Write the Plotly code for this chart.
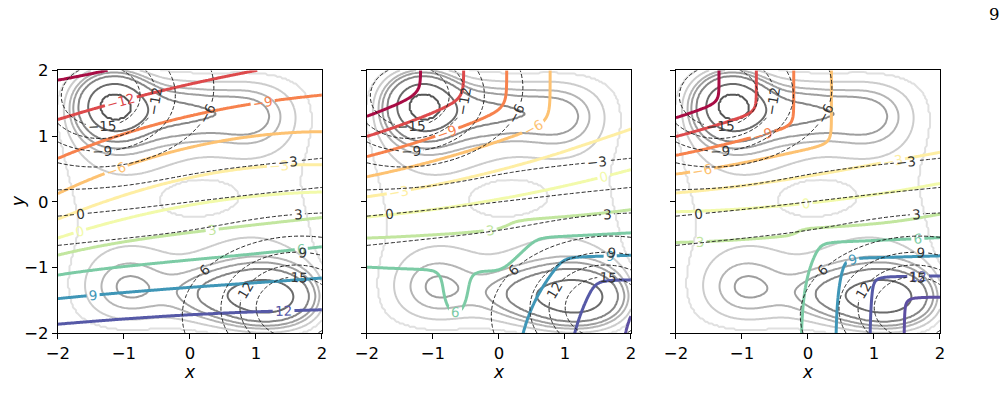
import numpy as np
import plotly.graph_objects as go

# ---------------- data: values ----------------
levels_start, levels_end, levels_step = -15, 15, 3          # labelled contour levels
tick_vals = [-2, -1, 0, 1, 2]

# potential (grey contours): gaussian terms (depth, x, y, sx, sy); negative depth = bump
pot_depth = [8.5, 2.9, 2.3, 1.0, 6.6, 2.4, 2.3, 0.8, -1.5]
pot_x = [-1.17, -0.15, 0.95, -0.9, 1.22, 0.35, -0.95, 0.9, 0.12]
pot_y = [1.47, 1.37, 1.30, 1.0, -1.46, -1.42, -1.30, -1.0, 0.06]
pot_sx = [0.36, 0.60, 0.45, 0.8, 0.50, 0.50, 0.45, 0.8, 0.38]
pot_sy = [0.33, 0.30, 0.38, 0.6, 0.30, 0.28, 0.38, 0.6, 0.19]
pot_wall = 1.0
# points the grey rings pass through (innermost -> outermost)
ring_x = [-1.36, -1.54, 0.36, 1.20, 1.37, 1.60, 1.83]
ring_y = [1.48, 1.48, 1.37, 1.30, 1.30, 1.30, 1.30]
grey_colors = ['#555555', '#6b6b6b', '#858585', '#9e9e9e', '#b5b5b5', '#cccccc', '#e0e0e0']

# reference field (dashed): tilt, saturation, two lobes
ref_ky, ref_kx, ref_sat = 7.5, 0.8, 5.5
ref_lobe = dict(amp=14.0, ax=1.06, ay=1.7, br=(1.6, -1.6), tl=(-1.35, 1.6))

# panel 1 colour field: zero line y0 (at x=-2,0,2) and profile coefficients
p1_y0 = [-0.55, -0.05, 0.15]
p1_a_neg = [5.0, 6.2, 5.3]
p1_b_neg = [3.0, 0.6, 1.2]
p1_a_pos = [7.5, 7.2, 6.2]
p1_b_pos = [2.2, 0.0, 0.9]

# panel 2 colour field
p2_y0 = [-0.23, 0.04, 0.49]
p2_k = [9.8, 6.8, 4.95]
p2_sat = 8.5
p2_top = dict(x0=0.77, slope=4.6, flat=-4.5)
p2_br = dict(x0=0.37, cx=1.2, kx=4.0, y0=-0.47, cy=1.68, ky=5.5)
p2_dip = dict(x=-0.66, y=-1.45, h=2.2, sx=0.15, sy=0.3)

# panel 3 colour field
p3_y0 = [-0.15, -0.02, 0.28]
p3_kneg = [10.5, 7.3, 6.4]
p3_kpos = 7.2
p3_sat = 5.5
p3_top = dict(x0=0.35, slope=5.3, flat=-4.5)
p3_br = dict(x0=-0.1, cx=0.5, kx=5.8, y0=-0.357, cy=0.0, ky=8.8)

spectral = ['#9e0142', '#d53e4f', '#f46d43', '#fdae61', '#fee08b', '#ffffbf',
            '#e6f598', '#abdda4', '#66c2a5', '#3288bd', '#5e4fa2']
norm_lo, norm_hi = -15.5, 12.5

# ---------------- fields ----------------
N = 161
g = np.linspace(-2, 2, N)
X, Y = np.meshgrid(g, g)


def quad(v, x):
    a = (v[2] - v[0]) / 4.0
    b = (v[2] + v[0] - 2 * v[1]) / 8.0
    return v[1] + a * x + b * x * x


def smax(a, b, s):
    return s * np.logaddexp(a / s, b / s)


def smin(a, b, s):
    return -smax(-a, -b, s)


def softplus(a, s):
    return s * np.logaddexp(0, a / s)


def potential(x, y):
    v = pot_wall * ((x / 2) ** 8 + (y / 2) ** 8)
    for A, cx, cy, sx, sy in zip(pot_depth, pot_x, pot_y, pot_sx, pot_sy):
        v = v - A * np.exp(-((x - cx) ** 2 / (2 * sx ** 2) + (y - cy) ** 2 / (2 * sy ** 2)))
    return v


V = potential(X, Y)
ring_levels = sorted(float(potential(px_, py_)) for px_, py_ in zip(ring_x, ring_y))
nr = len(ring_levels)
Vg = np.interp(V, [ring_levels[0] - 100] + ring_levels + [ring_levels[-1] + 100],
               [-1] + list(range(nr)) + [nr])

base = ref_sat * np.tanh((-ref_ky * Y + ref_kx * X) / ref_sat)
L = ref_lobe
F_ref = (base
         + L['amp'] * np.exp(-(L['ax'] * (X - L['br'][0]) ** 2 + L['ay'] * (Y - L['br'][1]) ** 2))
         - L['amp'] * np.exp(-(L['ax'] * (X - L['tl'][0]) ** 2 + L['ay'] * (Y - L['tl'][1]) ** 2)))

# panel 1
d1 = Y - quad(p1_y0, X)
F1 = np.where(d1 > 0,
              -(quad(p1_a_neg, X) * d1 + quad(p1_b_neg, X) * np.tanh(d1 / 0.5)),
              quad(p1_a_pos, X) * (-d1) + quad(p1_b_pos, X) * np.tanh(-d1 / 0.5))

# panel 2
d2 = Y - quad(p2_y0, X)
L2 = -quad(p2_k, X) * d2
core2 = np.where(L2 > 0, p2_sat * np.tanh(L2 / p2_sat), L2)
G2 = smin(-6 + p2_top['slope'] * (X - p2_top['x0']), p2_top['flat'], 0.5)
b2 = p2_br
T2 = softplus(smin(b2['cx'] + b2['kx'] * (X - b2['x0']), b2['cy'] + b2['ky'] * (b2['y0'] - Y), 0.4), 0.3)
D2 = p2_dip['h'] * np.exp(-((X - p2_dip['x']) ** 2 / (2 * p2_dip['sx'] ** 2) + (Y - p2_dip['y']) ** 2 / (2 * p2_dip['sy'] ** 2)))
F2 = smax(core2, G2, 0.6) + T2 - D2

# panel 3
d3 = Y - quad(p3_y0, X)
core3 = np.where(d3 > 0, -quad(p3_kneg, X) * d3, p3_sat * np.tanh(p3_kpos * (-d3) / p3_sat))
G3 = smin(-6 + p3_top['slope'] * (X - p3_top['x0']), p3_top['flat'], 0.5)
b3 = p3_br
T3 = softplus(smin(b3['cx'] + b3['kx'] * (X - b3['x0']), b3['cy'] + b3['ky'] * (b3['y0'] - Y), 0.5), 0.3)
F3 = smax(core3, G3, 0.5) + T3


# ---------------- colours ----------------
def hex2rgb(h):
    return np.array([int(h[i:i + 2], 16) for i in (1, 3, 5)], float)


def spectral_at(p):
    p = min(max(p, 0.0), 1.0) * 10
    i = min(int(p), 9)
    t = p - i
    c = hex2rgb(spectral[i]) * (1 - t) + hex2rgb(spectral[i + 1]) * t
    return 'rgb(%d,%d,%d)' % tuple(np.round(c))


levels = list(range(levels_start, levels_end + 1, levels_step))
color_scale = [[(lv - levels_start) / (levels_end - levels_start),
                spectral_at((lv - norm_lo) / (norm_hi - norm_lo))] for lv in levels]
grey_scale = [[i / (nr - 1), c] for i, c in enumerate(grey_colors)]

# the page photo maps figure pixels p to picture pixels a*p + b (measured)
FIG_W, FIG_H = 1006, 419
AX, BX, AY, BY = 0.983, 11.1, 0.954, 8.8


def px(P):
    return (P - BX) / AX / FIG_W


def py(P):
    return 1 - (P - BY) / AY / FIG_H


fig = go.Figure()
domains = [[px(57), px(321)], [px(366), px(630)], [px(675), px(939)]]
ydom = [py(333), py(70)]
fields = [F1, F2, F3]

for i, F in enumerate(fields):
    xa = 'x' if i == 0 else 'x%d' % (i + 1)
    ya = 'y' if i == 0 else 'y%d' % (i + 1)
    fig.add_trace(go.Contour(
        x=g, y=g, z=np.round(Vg, 4), xaxis=xa, yaxis=ya, showscale=False,
        autocontour=False, contours=dict(start=0, end=nr - 1, size=1, coloring='lines'),
        colorscale=grey_scale, line=dict(width=2), hoverinfo='skip'))
    fig.add_trace(go.Contour(
        x=g, y=g, z=np.round(F, 3), xaxis=xa, yaxis=ya, showscale=False,
        autocontour=False,
        contours=dict(start=levels_start, end=levels_end, size=levels_step, coloring='lines',
                      showlabels=True, labelfont=dict(size=13.5, family='DejaVu Sans')),
        colorscale=color_scale, line=dict(width=3), hoverinfo='skip'))
    fig.add_trace(go.Contour(
        x=g, y=g, z=np.round(F_ref, 3), xaxis=xa, yaxis=ya, showscale=False,
        autocontour=False,
        contours=dict(start=levels_start, end=levels_end, size=levels_step, coloring='lines',
                      showlabels=True, labelfont=dict(size=13.5, family='DejaVu Sans', color='#333333')),
        colorscale=[[0, '#222222'], [1, '#222222']], line=dict(width=1, dash='4px,2px'),
        hoverinfo='skip'))

axis_common = dict(range=[-2, 2], tickvals=tick_vals, ticks='outside', ticklen=5, tickwidth=1,
                   tickcolor='black', showgrid=False, zeroline=False, showline=True, mirror=True,
                   linecolor='black', linewidth=1,
                   tickfont=dict(family='DejaVu Sans', size=16.5, color='black'))
layout = dict(width=FIG_W, height=FIG_H, margin=dict(l=0, r=0, t=0, b=0),
              paper_bgcolor='white', plot_bgcolor='white', showlegend=False,
              font=dict(family='DejaVu Sans', size=16, color='black'))
for i in range(3):
    sx = '' if i == 0 else str(i + 1)
    layout['xaxis' + sx] = dict(axis_common, domain=domains[i], anchor='y' + sx)
    layout['yaxis' + sx] = dict(axis_common, domain=ydom, anchor='x' + sx,
                                showticklabels=(i == 0))
fig.update_layout(**layout)

ann = []
for i in range(3):
    ann.append(dict(text='<i>x</i>', x=(domains[i][0] + domains[i][1]) / 2, y=py(372),
                    xref='paper', yref='paper', showarrow=False, xanchor='center', yanchor='middle',
                    borderpad=0, font=dict(family='DejaVu Sans', size=17, color='black')))
ann.append(dict(text='<i>y</i>', x=6 / FIG_W, y=py(201), xref='paper', yref='paper',
                showarrow=False, xanchor='center', yanchor='middle', textangle=-90,
                font=dict(family='DejaVu Sans', size=17.5, color='black')))
ann.append(dict(text='9', x=px(993), y=py(14), xref='paper', yref='paper',
                showarrow=False, xanchor='center', yanchor='middle',
                font=dict(family='DejaVu Serif', size=16.5, color='black')))
fig.update_layout(annotations=ann)

fig.write_html('out.html')
